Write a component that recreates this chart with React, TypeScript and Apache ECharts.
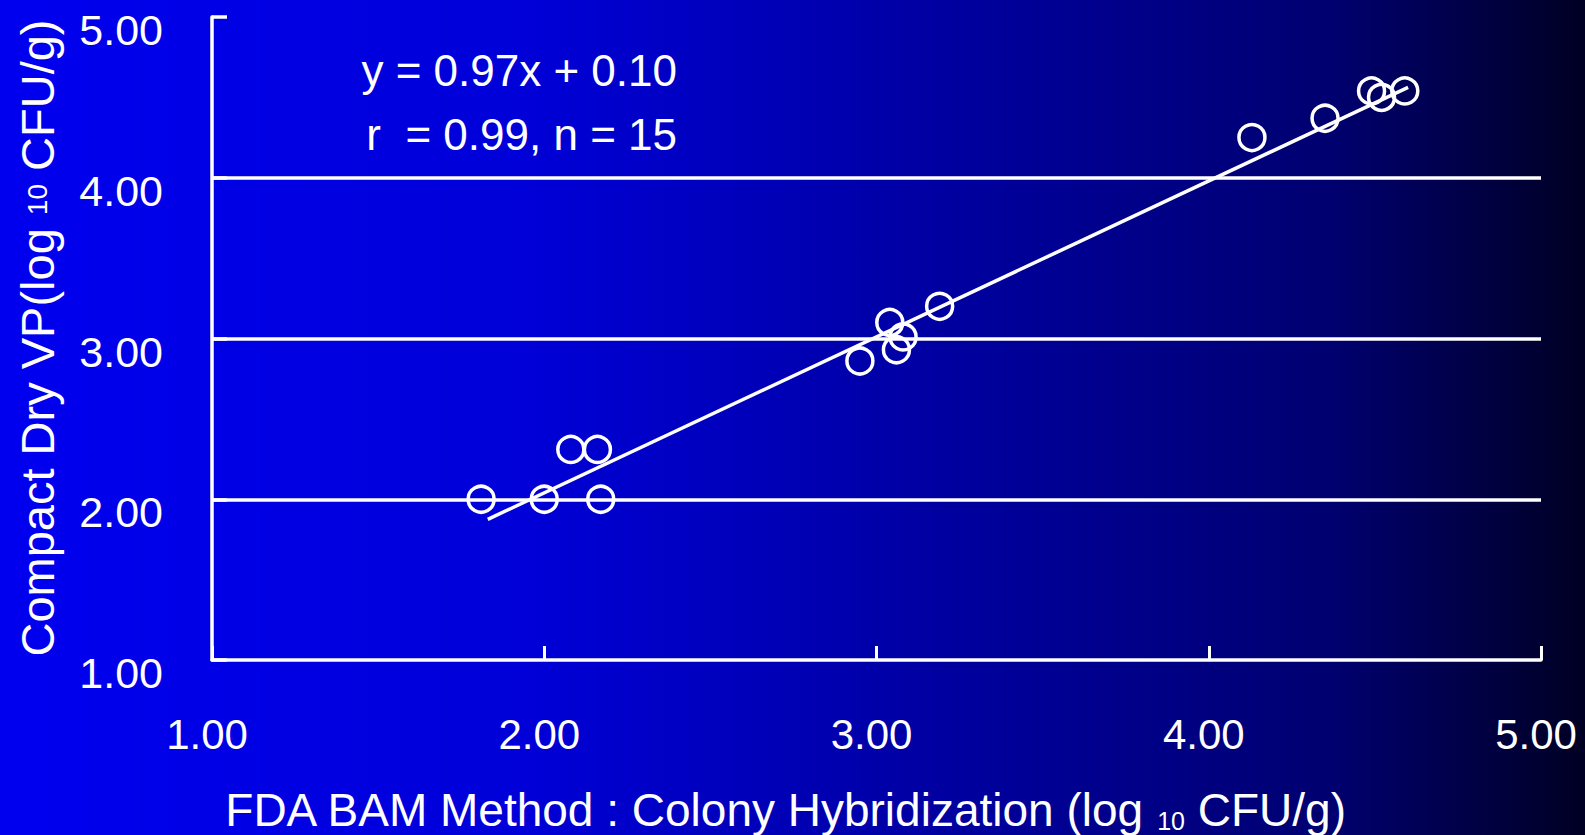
import React, { useEffect, useRef } from "react";
import * as echarts from "echarts";

// FDA BAM Method : Colony Hybridization (log10 CFU/g)
const fdaBam = [1.81, 2.0, 2.17, 2.08, 2.16, 2.95, 3.04, 3.06, 3.08, 3.19, 4.13, 4.35, 4.49, 4.52, 4.59];
// Compact Dry VP (log10 CFU/g)
const compactDry = [2.0, 2.0, 2.0, 2.31, 2.31, 2.86, 3.1, 2.93, 3.01, 3.2, 4.25, 4.37, 4.54, 4.5, 4.54];

// regression y = 0.97x + 0.10 drawn across this x range
const slope = 0.97;
const intercept = 0.1;
const fitRange = [1.83, 4.6];

const gridValues = [2, 3, 4];
const axisMin = 1;
const axisMax = 5;
const axisStep = 1;

const eqLine1 = "y = 0.97x + 0.10";
const eqLine2 = "r  = 0.99, n = 15";

const FONT = "'Liberation Sans', Arial, sans-serif";

export default function App() {
  const ref = useRef<HTMLDivElement>(null);
  useEffect(() => {
    if (!ref.current) return;
    const chart = echarts.init(ref.current, undefined, { renderer: "svg" });
    const points = fdaBam.map((x, i) => [x, compactDry[i]]);
    const fit = fitRange.map((x) => [x, slope * x + intercept]);
    chart.setOption({
      animation: false,
      backgroundColor: {
        type: "linear",
        x: 0,
        y: 0,
        x2: 1,
        y2: 0,
        colorStops: [
          { offset: 0, color: "#0000F0" },
          { offset: 0.33, color: "#0000D8" },
          { offset: 0.56, color: "#0000A8" },
          { offset: 0.84, color: "#000070" },
          { offset: 1, color: "#000024" },
        ],
      },
      grid: { left: 212, right: 44, top: 17, bottom: 175, outerBoundsMode: "none" },
      xAxis: {
        type: "value",
        min: axisMin,
        max: axisMax,
        interval: axisStep,
        axisLine: { show: true, lineStyle: { color: "#fff", width: 3.5 } },
        axisTick: { show: true, inside: true, length: 14, lineStyle: { color: "#fff", width: 3 } },
        splitLine: { show: false },
        axisLabel: {
          color: "#fff",
          fontFamily: FONT,
          fontSize: 42,
          margin: 53,
          padding: [0, 10, 0, 0],
          formatter: (v: number) => v.toFixed(2),
        },
      },
      yAxis: {
        type: "value",
        min: axisMin,
        max: axisMax,
        interval: axisStep,
        axisLine: { show: true, lineStyle: { color: "#fff", width: 3.5 } },
        axisTick: { show: true, inside: true, length: 15, lineStyle: { color: "#fff", width: 3.5 } },
        splitLine: { show: false },
        axisLabel: {
          color: "#fff",
          fontFamily: FONT,
          fontSize: 43,
          margin: 49,
          verticalAlign: "top",
          lineHeight: 26,
          formatter: (v: number) => v.toFixed(2),
        },
      },
      series: [
        {
          type: "scatter",
          data: points,
          symbol: "circle",
          symbolSize: 26,
          itemStyle: { color: "rgba(0,0,0,0)", borderColor: "#fff", borderWidth: 3.5, opacity: 1 },
          z: 3,
          markLine: {
            silent: true,
            symbol: ["none", "none"],
            label: { show: false },
            lineStyle: { color: "#fff", width: 3.5, type: "solid" },
            data: gridValues.map((v) => ({ yAxis: v })),
          },
        },
        {
          type: "line",
          data: fit,
          symbol: "none",
          lineStyle: { color: "#fff", width: 3.5 },
          z: 4,
        },
      ],
      graphic: [
        {
          type: "text",
          x: 677,
          y: 70,
          style: { text: eqLine1, fill: "#fff", fontSize: 44, fontFamily: FONT, align: "right", verticalAlign: "middle" },
        },
        {
          type: "text",
          x: 677,
          y: 134,
          style: { text: eqLine2, fill: "#fff", fontSize: 44, fontFamily: FONT, align: "right", verticalAlign: "middle" },
        },
        {
          type: "text",
          x: 37,
          y: 338,
          rotation: Math.PI / 2,
          style: {
            text: "{a|Compact Dry VP(log }{s|10}{a| CFU/g)}",
            fill: "#fff",
            align: "center",
            verticalAlign: "middle",
            rich: {
              a: { fontSize: 47, fontFamily: FONT, fill: "#fff", color: "#fff", lineHeight: 50 },
              s: { fontSize: 28, fontFamily: FONT, fill: "#fff", color: "#fff", verticalAlign: "middle", lineHeight: 40 },
            },
          },
        },
        {
          type: "text",
          x: 785,
          y: 810,
          style: {
            text: "{a|FDA BAM Method : Colony Hybridization (log }{s|10}{a| CFU/g)}",
            fill: "#fff",
            align: "center",
            verticalAlign: "middle",
            rich: {
              a: { fontSize: 46, fontFamily: FONT, fill: "#fff", color: "#fff", lineHeight: 46 },
              s: { fontSize: 25, fontFamily: FONT, fill: "#fff", color: "#fff", verticalAlign: "bottom", lineHeight: 32 },
            },
          },
        },
      ],
    });
    return () => chart.dispose();
  }, []);
  return <div ref={ref} style={{ position: "fixed", left: 0, top: 0, width: 1585, height: 835 }} />;
}
